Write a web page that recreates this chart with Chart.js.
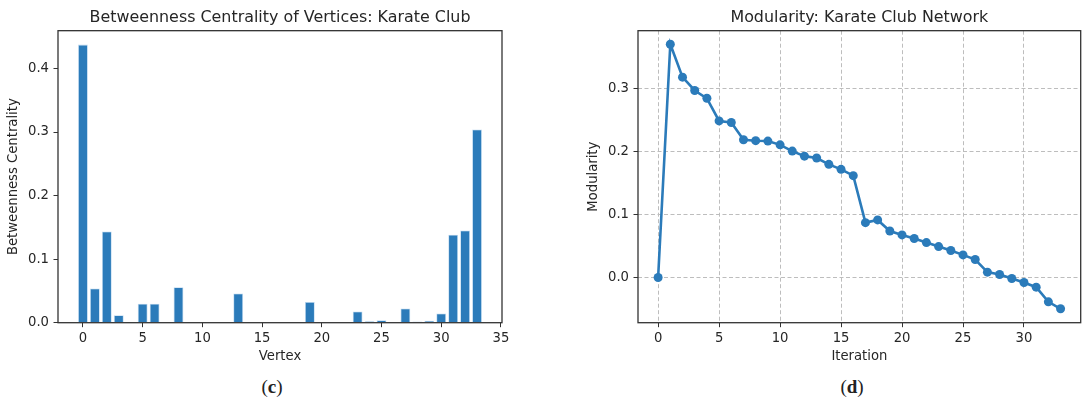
<!DOCTYPE html>
<html>
<head>
<meta charset="utf-8">
<script src="https://cdn.jsdelivr.net/npm/chart.js@4/dist/chart.umd.min.js"></script>
<style>
  body { margin: 0; background: #fff; width: 1091px; height: 405px; position: relative; overflow: hidden; }
  canvas { position: absolute; top: 0; }
  .cap { position: absolute; top: 376px; font-family: "Liberation Serif", "DejaVu Serif", serif; font-size: 19px; color: #222; transform: translateX(-50%); }
  .cap b { font-weight: bold; }
</style>
</head>
<body>
<canvas id="bc" width="515" height="375" style="left:0px"></canvas>
<canvas id="mod" width="511" height="375" style="left:580px"></canvas>
<div class="cap" style="left:272px">(<b>c</b>)</div>
<div class="cap" style="left:852px">(<b>d</b>)</div>
<script>
// betweenness centrality per vertex
const vertices = [0, 1, 2, 3, 4, 5, 6, 7, 8, 9, 10, 11, 12, 13, 14, 15, 16,
    17, 18, 19, 20, 21, 22, 23, 24, 25, 26, 27, 28, 29, 30, 31, 32, 33];
const betweenness = [0.4376, 0.0539, 0.1437, 0.0119, 0.0006, 0.0300, 0.0300, 0.0, 0.0559, 0.0008,
    0.0006, 0.0, 0.0, 0.0459, 0.0, 0.0, 0.0, 0.0, 0.0, 0.0325,
    0.0, 0.0, 0.0, 0.0176, 0.0022, 0.0038, 0.0, 0.0223, 0.0018, 0.0029,
    0.0145, 0.1383, 0.1452, 0.3041];
const bcXTicks = [0, 5, 10, 15, 20, 25, 30, 35];
const bcYTicks = [0, 0.1, 0.2, 0.3, 0.4];

// modularity per iteration
const iterations = [0, 1, 2, 3, 4, 5, 6, 7, 8, 9, 10, 11, 12, 13, 14, 15, 16,
    17, 18, 19, 20, 21, 22, 23, 24, 25, 26, 27, 28, 29, 30, 31, 32, 33];
const modularity = [0.0, 0.371, 0.3186, 0.2974, 0.285, 0.249, 0.2466, 0.219, 0.2176, 0.217,
    0.211, 0.201, 0.193, 0.190, 0.180, 0.172, 0.162, 0.0873, 0.0916, 0.074,
    0.0678, 0.062, 0.0556, 0.0492, 0.043, 0.036, 0.0286, 0.0086, 0.0048, -0.0016,
    -0.0079, -0.0153, -0.0386, -0.0497];
const modXTicks = [0, 5, 10, 15, 20, 25, 30];
const modYTicks = [0, 0.1, 0.2, 0.3];

const blue = '#2b7bba';
const textColor = '#262626';
const fontFamily = '"DejaVu Sans", sans-serif';

const framePlugin = {
    id: 'frame',
    afterDraw(chart) {
        const ctx = chart.ctx;
        const a = chart.chartArea;
        ctx.save();
        ctx.strokeStyle = '#333';
        ctx.lineWidth = 1.3;
        ctx.strokeRect(a.left, a.top, a.right - a.left, a.bottom - a.top);
        ctx.restore();
    }
};

function axisX(ticks, min, max, title, showGrid) {
    return {
        type: 'linear',
        min: min,
        max: max,
        offset: false,
        afterBuildTicks: s => { s.ticks = ticks.map(v => ({value: v})); },
        afterFit: s => { s.height = 52.3; s.paddingLeft = 0; s.paddingRight = 0; },
        ticks: {
            color: textColor,
            font: {family: fontFamily, size: 13.2},
            padding: 3.5,
            maxRotation: 0,
            callback: v => String(v)
        },
        grid: {
            offset: false,
            drawOnChartArea: showGrid,
            color: '#bdbdbd',
            lineWidth: 1,
            tickLength: 4.5,
            tickColor: '#333',
            tickWidth: 1
        },
        border: {display: false, dash: [4, 2.5]},
        title: {
            display: true,
            text: title,
            color: textColor,
            font: {family: fontFamily, size: 13.2},
            padding: {top: 0, bottom: 10.5}
        }
    };
}

function axisY(ticks, min, max, title, showGrid) {
    return {
        type: 'linear',
        min: min,
        max: max,
        afterBuildTicks: s => { s.ticks = ticks.map(v => ({value: v})); },
        afterFit: s => { s.width = 58; s.paddingTop = 0; s.paddingBottom = 0; },
        ticks: {
            color: textColor,
            font: {family: fontFamily, size: 13.2},
            padding: 4.5,
            callback: v => v.toFixed(1)
        },
        grid: {
            drawOnChartArea: showGrid,
            color: '#bdbdbd',
            lineWidth: 1,
            tickLength: 4.5,
            tickColor: '#333',
            tickWidth: 1
        },
        border: {display: false, dash: [4, 2.5]},
        title: {
            display: true,
            text: title,
            color: textColor,
            font: {family: fontFamily, size: 13.2},
            padding: {top: 5.5, bottom: 0}
        }
    };
}

function titleOpts(text) {
    return {
        display: true,
        fullSize: false,
        text: text,
        color: textColor,
        font: {family: fontFamily, size: 15.9, weight: 'normal'},
        padding: {top: 8, bottom: 3.6}
    };
}

new Chart(document.getElementById('bc').getContext('2d'), {
    type: 'bar',
    data: {
        datasets: [{
            label: 'Betweenness Centrality',
            data: vertices.map((v, i) => ({x: v, y: betweenness[i]})),
            backgroundColor: blue,
            borderColor: 'rgba(170,205,235,0.8)',
            borderWidth: 0.8,
            barPercentage: 1,
            categoryPercentage: 0.82
        }]
    },
    options: {
        responsive: false,
        animation: false,
        layout: {padding: {right: 13, left: 0, top: 0, bottom: 0}},
        plugins: {
            legend: {display: false},
            tooltip: {enabled: false},
            title: titleOpts('Betweenness Centrality of Vertices: Karate Club')
        },
        scales: {
            x: axisX(bcXTicks, -2.09, 35.09, 'Vertex', false),
            y: axisY(bcYTicks, 0, 0.4595, 'Betweenness Centrality', false)
        }
    },
    plugins: [framePlugin]
});

new Chart(document.getElementById('mod').getContext('2d'), {
    type: 'line',
    data: {
        datasets: [{
            label: 'Modularity',
            data: iterations.map((v, i) => ({x: v, y: modularity[i]})),
            borderColor: blue,
            backgroundColor: blue,
            borderWidth: 2.6,
            pointRadius: 4.5,
            pointBorderWidth: 0,
            pointBackgroundColor: blue,
            tension: 0,
            fill: false
        }]
    },
    options: {
        responsive: false,
        animation: false,
        layout: {padding: {right: 10.3, left: 0, top: 0, bottom: 0}},
        plugins: {
            legend: {display: false},
            tooltip: {enabled: false},
            title: titleOpts('Modularity: Karate Club Network')
        },
        scales: {
            x: axisX(modXTicks, -1.65, 34.65, 'Iteration', true),
            y: axisY(modYTicks, -0.0718, 0.3925, 'Modularity', true)
        }
    },
    plugins: [framePlugin]
});
</script>
</body>
</html>
